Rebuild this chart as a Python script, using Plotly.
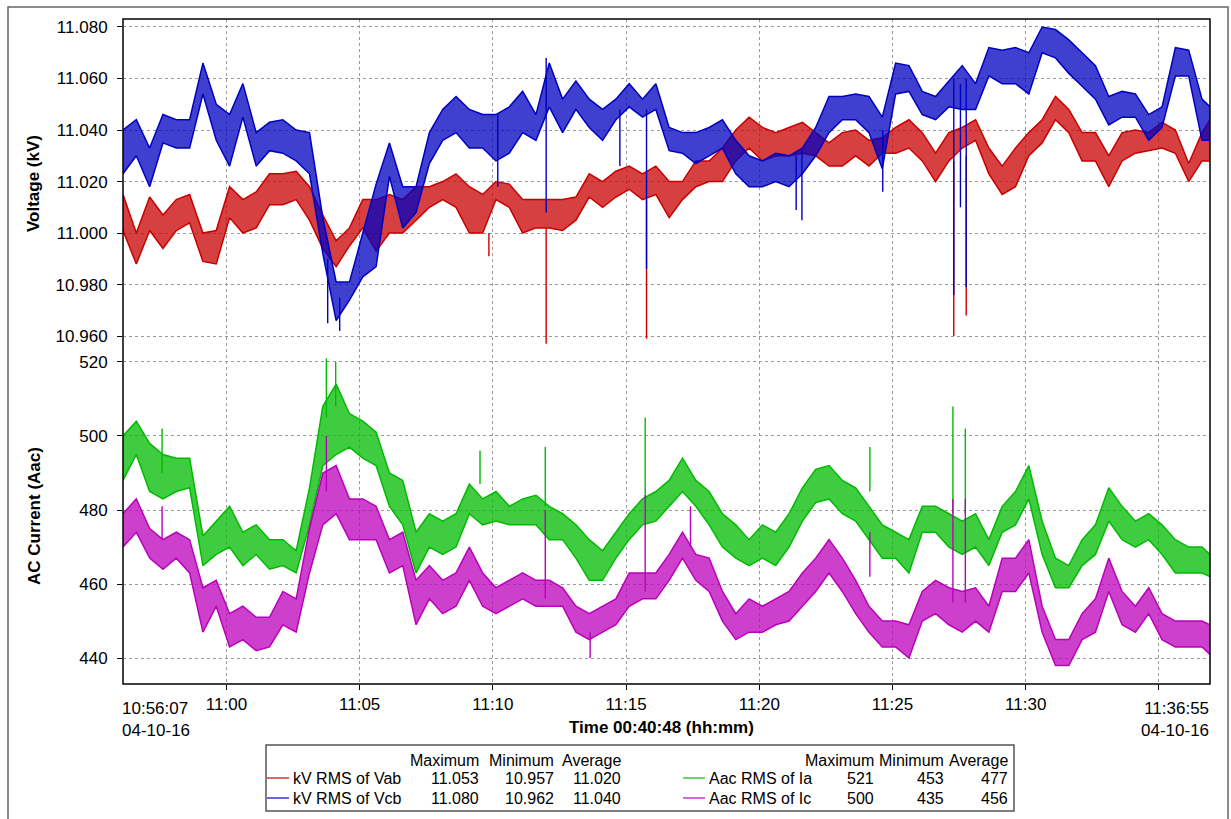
import pandas as pd
import plotly.graph_objects as go

# ---------------- data ----------------
T0 = "2016-04-10 10:56:07"
T_END = "2016-04-10 11:36:55"
times = list(pd.date_range(T0, periods=82, freq="30s")) + [pd.Timestamp(T_END)]

vab_hi = [11.015, 11.000, 11.014, 11.007, 11.013, 11.015, 11.000, 11.001, 11.018, 11.013,
          11.016, 11.023, 11.023, 11.024, 11.018, 11.007, 10.997, 11.002, 11.013, 11.013,
          11.015, 11.013, 11.018, 11.018, 11.020, 11.023, 11.018, 11.015, 11.020, 11.019,
          11.013, 11.013, 11.013, 11.013, 11.014, 11.023, 11.020, 11.024, 11.026, 11.023,
          11.026, 11.020, 11.020, 11.028, 11.028, 11.033, 11.040, 11.045, 11.041, 11.039,
          11.041, 11.043, 11.039, 11.035, 11.039, 11.040, 11.036, 11.037, 11.041, 11.044,
          11.039, 11.031, 11.039, 11.041, 11.044, 11.033, 11.026, 11.033, 11.039, 11.044,
          11.053, 11.048, 11.039, 11.039, 11.030, 11.039, 11.040, 11.039, 11.043, 11.040,
          11.027, 11.039, 11.044]
vab_lo = [11.001, 10.988, 11.001, 10.994, 11.001, 11.004, 10.989, 10.988, 11.006, 11.000,
          11.002, 11.011, 11.011, 11.013, 11.005, 10.994, 10.987, 10.995, 11.002, 10.993,
          11.000, 11.000, 11.005, 11.010, 11.013, 11.010, 11.000, 11.000, 11.013, 11.010,
          11.000, 11.002, 11.002, 11.001, 11.005, 11.014, 11.010, 11.014, 11.017, 11.013,
          11.015, 11.006, 11.013, 11.018, 11.020, 11.020, 11.028, 11.033, 11.028, 11.030,
          11.030, 11.031, 11.030, 11.026, 11.026, 11.030, 11.026, 11.031, 11.031, 11.033,
          11.028, 11.020, 11.028, 11.033, 11.036, 11.023, 11.015, 11.018, 11.030, 11.035,
          11.044, 11.039, 11.028, 11.028, 11.018, 11.028, 11.031, 11.032, 11.033, 11.031,
          11.020, 11.028, 11.028]
vcb_hi = [11.040, 11.044, 11.033, 11.046, 11.044, 11.044, 11.066, 11.050, 11.046, 11.058,
          11.039, 11.043, 11.044, 11.040, 11.039, 11.006, 10.981, 10.981, 11.000, 11.019,
          11.035, 11.018, 11.018, 11.039, 11.048, 11.053, 11.048, 11.046, 11.046, 11.049,
          11.055, 11.046, 11.066, 11.052, 11.059, 11.052, 11.048, 11.052, 11.058, 11.052,
          11.058, 11.041, 11.039, 11.039, 11.041, 11.044, 11.036, 11.030, 11.028, 11.031,
          11.030, 11.033, 11.041, 11.053, 11.053, 11.054, 11.053, 11.045, 11.066, 11.065,
          11.055, 11.053, 11.059, 11.065, 11.058, 11.072, 11.071, 11.072, 11.070, 11.080,
          11.079, 11.075, 11.070, 11.065, 11.053, 11.055, 11.054, 11.046, 11.049, 11.072,
          11.071, 11.052, 11.049]
vcb_lo = [11.023, 11.030, 11.018, 11.035, 11.033, 11.033, 11.054, 11.036, 11.026, 11.045,
          11.026, 11.032, 11.031, 11.028, 11.023, 10.992, 10.966, 10.974, 10.983, 10.987,
          11.022, 11.002, 11.008, 11.027, 11.036, 11.039, 11.033, 11.033, 11.028, 11.031,
          11.039, 11.036, 11.049, 11.039, 11.048, 11.041, 11.036, 11.044, 11.049, 11.045,
          11.048, 11.032, 11.031, 11.027, 11.030, 11.033, 11.023, 11.018, 11.018, 11.020,
          11.018, 11.023, 11.030, 11.039, 11.044, 11.044, 11.039, 11.025, 11.054, 11.055,
          11.046, 11.044, 11.049, 11.048, 11.048, 11.061, 11.058, 11.058, 11.054, 11.070,
          11.068, 11.062, 11.057, 11.052, 11.042, 11.045, 11.045, 11.036, 11.041, 11.061,
          11.061, 11.036, 11.036]
ia_hi = [500, 504, 498, 495, 494, 494, 473, 477, 481, 474,
         476, 472, 472, 469, 486, 508, 514, 506, 504, 501,
         490, 488, 474, 479, 477, 479, 487, 483, 485, 481,
         483, 484, 481, 479, 476, 472, 469, 474, 479, 483,
         485, 488, 494, 488, 485, 479, 476, 472, 476, 474,
         479, 486, 491, 492, 488, 486, 481, 476, 474, 472,
         481, 481, 479, 477, 479, 472, 481, 485, 492, 477,
         467, 465, 472, 476, 486, 481, 477, 479, 476, 472,
         470, 470, 468]
ia_lo = [488, 495, 485, 483, 485, 486, 465, 468, 470, 465,
         468, 464, 465, 463, 476, 492, 495, 497, 494, 492,
         481, 476, 463, 470, 468, 470, 479, 476, 477, 476,
         476, 476, 472, 472, 467, 461, 461, 467, 472, 476,
         477, 481, 485, 481, 476, 470, 467, 465, 467, 465,
         470, 477, 482, 483, 479, 477, 472, 467, 467, 463,
         474, 474, 470, 468, 470, 465, 474, 476, 483, 468,
         459, 459, 465, 468, 477, 472, 470, 472, 468, 463,
         463, 463, 462]
ic_hi = [479, 483, 475, 472, 474, 472, 459, 461, 452, 454,
         451, 451, 458, 456, 475, 490, 492, 483, 483, 481,
         472, 474, 461, 465, 461, 463, 470, 463, 459, 461,
         463, 461, 461, 459, 454, 452, 454, 456, 463, 463,
         463, 468, 474, 468, 467, 458, 452, 456, 454, 456,
         458, 463, 467, 472, 467, 461, 454, 450, 450, 449,
         458, 461, 459, 458, 459, 454, 467, 467, 472, 454,
         445, 445, 452, 456, 467, 458, 454, 459, 452, 450,
         450, 450, 449]
ic_lo = [470, 474, 467, 464, 467, 463, 447, 454, 443, 445,
         442, 443, 449, 447, 463, 476, 479, 472, 472, 472,
         463, 465, 449, 456, 452, 454, 461, 454, 452, 454,
         456, 454, 454, 454, 447, 445, 447, 449, 454, 456,
         456, 461, 467, 461, 458, 450, 445, 447, 447, 449,
         450, 454, 458, 463, 458, 452, 447, 443, 443, 440,
         450, 452, 449, 447, 450, 447, 458, 458, 463, 447,
         438, 438, 445, 447, 458, 449, 447, 452, 445, 443,
         443, 443, 441]

# short spikes: time, start value, end value
vab_spk_t = ["11:09:51", "11:12:00", "11:15:46", "11:27:18", "11:27:46"]
vab_spk_a = [11.000, 11.002, 11.013, 11.028, 11.030]
vab_spk_b = [10.991, 10.957, 10.959, 10.960, 10.968]
vcb_spk_t = ["11:03:48", "11:04:15", "11:10:11", "11:12:00", "11:14:46", "11:15:46",
             "11:21:23", "11:21:36", "11:24:38", "11:27:18", "11:27:33", "11:27:46"]
vcb_spk_a = [10.990, 10.975, 11.046, 11.068, 11.048, 11.048,
             11.030, 11.032, 11.040, 11.060, 11.058, 11.060]
vcb_spk_b = [10.965, 10.962, 11.018, 11.008, 11.026, 10.986,
             11.009, 11.005, 11.016, 10.976, 11.010, 10.979]
ia_spk_t = ["10:57:35", "11:03:45", "11:04:06", "11:09:31", "11:11:58", "11:15:43",
            "11:24:09", "11:27:16", "11:27:44"]
ia_spk_a = [490, 505, 508, 487, 481, 483, 485, 479, 479]
ia_spk_b = [502, 521, 520, 496, 497, 505, 497, 508, 502]
ic_spk_t = ["10:57:35", "11:03:45", "11:11:58", "11:13:39", "11:15:43", "11:17:25",
            "11:24:09", "11:27:16", "11:27:44"]
ic_spk_a = [472, 485, 456, 447, 458, 470, 462, 455, 455]
ic_spk_b = [481, 500, 480, 440, 484, 481, 474, 483, 483]

v_ticks = [10.960, 10.980, 11.000, 11.020, 11.040, 11.060, 11.080]
i_ticks = [440, 460, 480, 500, 520]
x_ticks = ["11:00", "11:05", "11:10", "11:15", "11:20", "11:25", "11:30", "11:35"]
x_labels = ["11:00", "11:05", "11:10", "11:15", "11:20", "11:25", "11:30", ""]

names = ["kV RMS of Vab", "kV RMS of Vcb", "Aac RMS of Ia", "Aac RMS of Ic"]
stat_max = ["11.053", "11.080", "521", "500"]
stat_min = ["10.957", "10.962", "453", "435"]
stat_avg = ["11.020", "11.040", "477", "456"]
colors = ["#c80000", "#0000c0", "#00bb00", "#bb00bb"]
fills = ["rgba(200,0,0,0.75)", "rgba(0,0,192,0.75)", "rgba(0,187,0,0.75)", "rgba(187,0,187,0.75)"]

# ---------------- figure ----------------
W, H = 1231, 819
def px(x): return x / W
def py(y): return 1 - y / H

FONT = "Liberation Sans, Arial, sans-serif"
day = "2016-04-10 "
fig = go.Figure()

series = [(vab_lo, vab_hi, "y", vab_spk_t, vab_spk_a, vab_spk_b),
          (vcb_lo, vcb_hi, "y", vcb_spk_t, vcb_spk_a, vcb_spk_b),
          (ia_lo, ia_hi, "y2", ia_spk_t, ia_spk_a, ia_spk_b),
          (ic_lo, ic_hi, "y2", ic_spk_t, ic_spk_a, ic_spk_b)]
for i, (lo, hi, ya, st, sa, sb) in enumerate(series):
    fig.add_trace(go.Scatter(x=times, y=lo, yaxis=ya, mode="lines",
                             line=dict(color=colors[i], width=1.5), showlegend=False))
    fig.add_trace(go.Scatter(x=times, y=hi, yaxis=ya, mode="lines", fill="tonexty",
                             fillcolor=fills[i],
                             line=dict(color=colors[i], width=1.5), showlegend=False))
    sx, sy = [], []
    for t, a, b in zip(st, sa, sb):
        sx += [day + t, day + t, None]
        sy += [a, b, None]
    fig.add_trace(go.Scatter(x=sx, y=sy, yaxis=ya, mode="lines",
                             line=dict(color=colors[i], width=1.4), showlegend=False))

X0, X1 = px(123), px(1210)
YT, YM, YB = py(19), py(349), py(684)

grid = dict(showgrid=True, gridcolor="#9a9a9a", griddash="dot", gridwidth=1,
            zeroline=False, showline=False, ticks="outside", ticklen=5,
            tickcolor="black", tickfont=dict(family=FONT, size=17, color="black"))
fig.update_layout(
    width=W, height=H, margin=dict(l=0, r=0, t=0, b=0),
    paper_bgcolor="white", plot_bgcolor="white", showlegend=False,
    xaxis=dict(domain=[X0, X1], anchor="y2", type="date",
               range=[T0, T_END],
               tickvals=[day + t for t in x_ticks], ticktext=x_labels, **grid),
    yaxis=dict(domain=[YM, YT], range=[10.955, 11.0831], tickvals=v_ticks,
               tickformat=".3f", anchor="x", ticklabelstandoff=6, **grid),
    yaxis2=dict(domain=[YB, YM], range=[433.0, 523.5], tickvals=i_ticks,
                anchor="x", ticklabelstandoff=6, **grid),
)

shapes = [
    dict(type="rect", xref="paper", yref="paper", x0=px(8), x1=px(1228), y0=-0.05, y1=py(7),
         line=dict(color="#666666", width=1.5)),
    dict(type="rect", xref="paper", yref="paper", x0=X0, x1=X1, y0=YB, y1=YT,
         line=dict(color="black", width=1.5)),
    dict(type="rect", xref="paper", yref="paper", x0=px(266), x1=px(1014), y0=py(811), y1=py(745),
         line=dict(color="#555555", width=1.5)),
]
# legend line samples
leg_rows = [778, 798, 778, 798]
leg_lx = [267, 267, 683, 683]
for i in range(4):
    shapes.append(dict(type="line", xref="paper", yref="paper",
                       x0=px(leg_lx[i]), x1=px(leg_lx[i] + 22), y0=py(leg_rows[i]), y1=py(leg_rows[i]),
                       line=dict(color=colors[i], width=1.2)))
fig.update_layout(shapes=shapes)

ann = []
def text(x, y, s, xa="left", size=16, bold=False, angle=0):
    if bold:
        s = "<b>" + s + "</b>"
    ann.append(dict(x=px(x), y=py(y), xref="paper", yref="paper", text=s, showarrow=False,
                    xanchor=xa, yanchor="middle", textangle=angle,
                    font=dict(family=FONT, size=size, color="black")))

text(34, 184, "Voltage (kV)", xa="center", size=17, bold=True, angle=-90)
text(34, 516, "AC Current (Aac)", xa="center", size=17, bold=True, angle=-90)
text(661, 727, "Time 00:40:48 (hh:mm)", xa="center", size=17, bold=True)
ann.append(dict(x=px(120), y=py(697), xref="paper", yref="paper", showarrow=False,
                text="10:56:07<br>04-10-16", xanchor="left", yanchor="top", align="left",
                font=dict(family=FONT, size=17, color="black")))
ann.append(dict(x=px(1211), y=py(697), xref="paper", yref="paper", showarrow=False,
                text="11:36:55<br>04-10-16", xanchor="right", yanchor="top", align="right",
                font=dict(family=FONT, size=17, color="black")))

# legend table
col_max = [480, 480, 875, 875]
col_min = [555, 555, 945, 945]
col_avg = [622, 622, 1009, 1009]
for hx in (0, 2):
    text(col_max[hx] + 1, 760, "Maximum", xa="right")
    text(col_min[hx] + 1, 760, "Minimum", xa="right")
    text(col_avg[hx] + 1, 760, "Average", xa="right")
for i in range(4):
    text(leg_lx[i] + 24, leg_rows[i], names[i])
    text(col_max[i] + 1, leg_rows[i], stat_max[i], xa="right")
    text(col_min[i] + 1, leg_rows[i], stat_min[i], xa="right")
    text(col_avg[i] + 1, leg_rows[i], stat_avg[i], xa="right")
fig.update_layout(annotations=ann)

fig.write_html("out.html")
